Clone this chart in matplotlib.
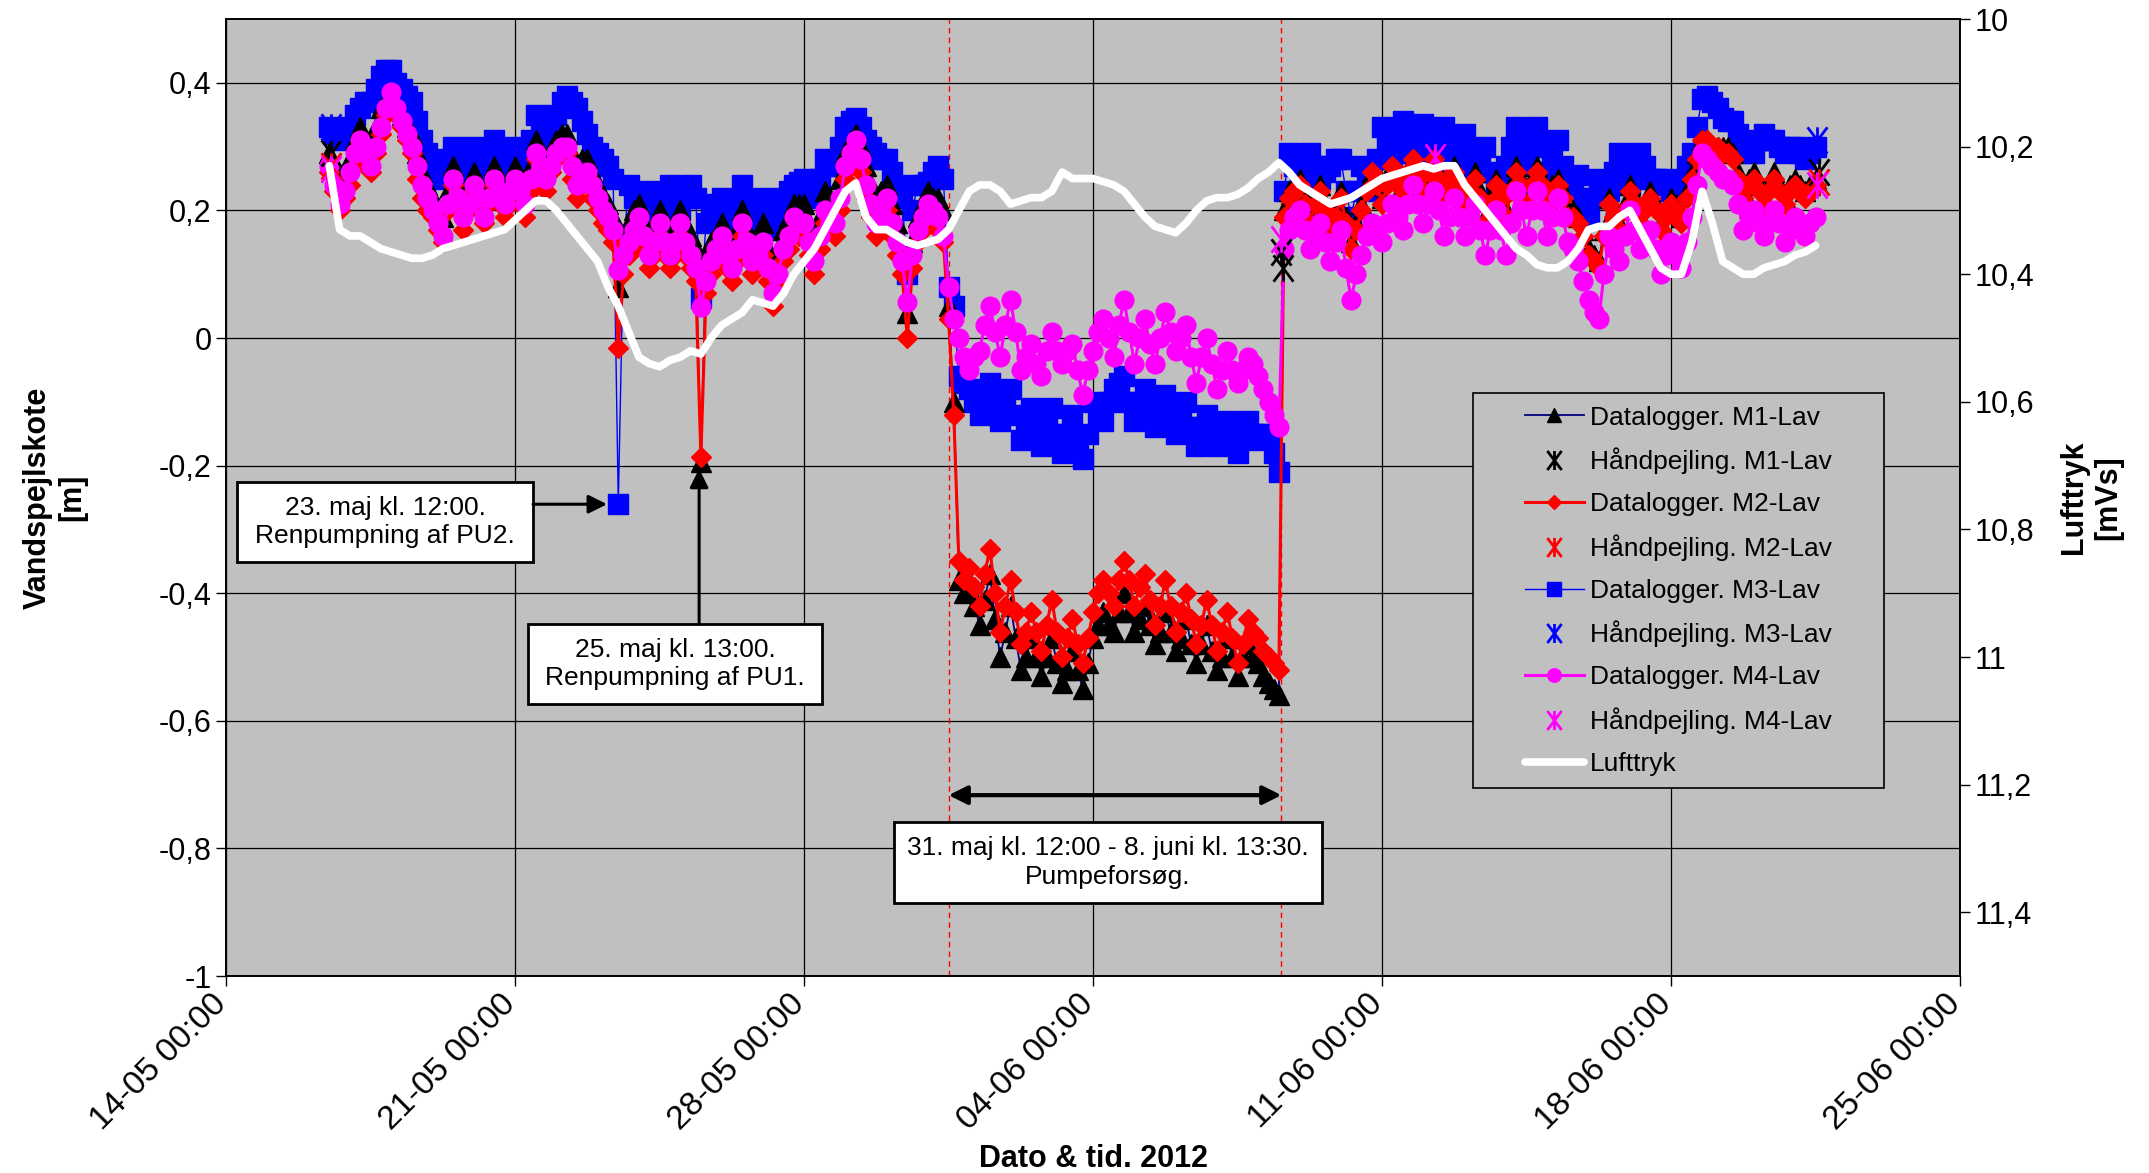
import numpy as np
import pandas as pd
import matplotlib
matplotlib.use("Agg")
import matplotlib.pyplot as plt
import matplotlib.dates as mdates
import matplotlib.transforms as mtransforms
from matplotlib.patches import Rectangle
from matplotlib.path import Path
from matplotlib.ticker import FuncFormatter

plt.rcParams['font.family'] = ['Liberation Sans', 'DejaVu Sans']
plt.rcParams['axes.unicode_minus'] = False

# Datalogger readings every 3 hours from 16-05-2012 12:00, one line per day
start = "2012-05-16 12:00"

m1_datalogger = [
    0.29, 0.27, 0.25, 0.26,
    0.28, 0.31, 0.33, 0.31, 0.30, 0.33, 0.36, 0.37,
    0.38, 0.36, 0.35, 0.33, 0.32, 0.29, 0.26, 0.24,
    0.22, 0.20, 0.19, 0.23, 0.27, 0.24, 0.21, 0.23,
    0.26, 0.24, 0.22, 0.25, 0.27, 0.25, 0.23, 0.25,
    0.27, 0.25, 0.23, 0.27, 0.31, 0.29, 0.27, 0.29,
    0.31, 0.32, 0.32, 0.29, 0.27, 0.28, 0.28, 0.26,
    0.24, 0.22, 0.21, 0.19, 0.08, 0.15, 0.18, 0.20,
    0.21, 0.18, 0.16, 0.18, 0.20, 0.18, 0.16, 0.18,
    0.20, 0.18, 0.16, 0.14, -0.194, 0.12, 0.15, 0.16,
    0.18, 0.16, 0.14, 0.17, 0.20, 0.17, 0.15, 0.16,
    0.18, 0.14, 0.11, 0.14, 0.17, 0.19, 0.21, 0.21,
    0.21, 0.18, 0.15, 0.19, 0.23, 0.22, 0.21, 0.25,
    0.29, 0.31, 0.32, 0.30, 0.27, 0.24, 0.22, 0.23,
    0.24, 0.21, 0.18, 0.15, 0.039, 0.15, 0.19, 0.21,
    0.23, 0.22, 0.22, 0.20, 0.05, -0.10, -0.38, -0.40,
    -0.39, -0.42, -0.45, -0.41, -0.37, -0.44, -0.50, -0.46,
    -0.42, -0.47, -0.52, -0.50, -0.47, -0.50, -0.53, -0.50,
    -0.47, -0.51, -0.54, -0.52, -0.49, -0.52, -0.55, -0.51,
    -0.47, -0.45, -0.43, -0.45, -0.46, -0.43, -0.40, -0.43,
    -0.46, -0.44, -0.42, -0.45, -0.48, -0.46, -0.43, -0.46,
    -0.49, -0.47, -0.44, -0.48, -0.51, -0.48, -0.45, -0.49,
    -0.52, -0.50, -0.47, -0.50, -0.53, -0.50, -0.48, -0.50,
    -0.51, -0.53, -0.54, -0.55, -0.56, 0.20, 0.23, 0.24,
    0.25, 0.22, 0.19, 0.22, 0.24, 0.21, 0.18, 0.20,
    0.23, 0.19, 0.15, 0.18, 0.21, 0.24, 0.26, 0.24,
    0.22, 0.25, 0.27, 0.26, 0.24, 0.26, 0.28, 0.26,
    0.24, 0.26, 0.28, 0.26, 0.23, 0.25, 0.27, 0.25,
    0.22, 0.24, 0.26, 0.23, 0.19, 0.22, 0.25, 0.23,
    0.20, 0.24, 0.27, 0.25, 0.22, 0.25, 0.27, 0.25,
    0.22, 0.24, 0.25, 0.23, 0.20, 0.20, 0.19, 0.17,
    0.14, 0.13, 0.12, 0.17, 0.22, 0.20, 0.18, 0.21,
    0.24, 0.22, 0.19, 0.21, 0.23, 0.21, 0.18, 0.20,
    0.22, 0.21, 0.19, 0.23, 0.26, 0.29, 0.31, 0.31,
    0.30, 0.30, 0.30, 0.30, 0.29, 0.26, 0.23, 0.25,
    0.26, 0.24, 0.22, 0.24, 0.26, 0.24, 0.22, 0.24,
    0.25, 0.24, 0.23, 0.24, 0.25,
]

m2_datalogger = [
    0.26, 0.23, 0.20, 0.22,
    0.24, 0.27, 0.30, 0.28, 0.26, 0.29, 0.32, 0.35,
    0.37, 0.35, 0.33, 0.31, 0.29, 0.25, 0.22, 0.20,
    0.19, 0.17, 0.15, 0.20, 0.24, 0.20, 0.17, 0.20,
    0.23, 0.21, 0.18, 0.21, 0.24, 0.21, 0.19, 0.21,
    0.24, 0.21, 0.19, 0.23, 0.28, 0.25, 0.23, 0.26,
    0.28, 0.29, 0.29, 0.25, 0.22, 0.24, 0.25, 0.22,
    0.20, 0.18, 0.17, 0.15, -0.015, 0.10, 0.13, 0.15,
    0.17, 0.14, 0.11, 0.13, 0.16, 0.13, 0.11, 0.13,
    0.16, 0.13, 0.11, 0.09, -0.186, 0.07, 0.10, 0.12,
    0.14, 0.11, 0.09, 0.12, 0.16, 0.13, 0.10, 0.12,
    0.13, 0.09, 0.05, 0.09, 0.12, 0.14, 0.17, 0.16,
    0.16, 0.13, 0.10, 0.14, 0.18, 0.17, 0.16, 0.20,
    0.25, 0.27, 0.29, 0.26, 0.22, 0.19, 0.16, 0.18,
    0.20, 0.16, 0.13, 0.10, 0.00, 0.11, 0.15, 0.17,
    0.19, 0.18, 0.17, 0.15, 0.03, -0.12, -0.35, -0.38,
    -0.36, -0.39, -0.42, -0.37, -0.33, -0.40, -0.46, -0.42,
    -0.38, -0.43, -0.48, -0.46, -0.43, -0.46, -0.49, -0.45,
    -0.41, -0.46, -0.50, -0.47, -0.44, -0.48, -0.51, -0.47,
    -0.43, -0.40, -0.38, -0.40, -0.42, -0.38, -0.35, -0.38,
    -0.42, -0.39, -0.37, -0.41, -0.45, -0.42, -0.38, -0.42,
    -0.46, -0.43, -0.40, -0.44, -0.48, -0.45, -0.41, -0.45,
    -0.49, -0.46, -0.43, -0.47, -0.51, -0.48, -0.44, -0.46,
    -0.47, -0.49, -0.50, -0.51, -0.52, 0.19, 0.22, 0.23,
    0.24, 0.21, 0.18, 0.21, 0.23, 0.20, 0.17, 0.19,
    0.22, 0.18, 0.14, 0.17, 0.20, 0.23, 0.26, 0.24,
    0.21, 0.24, 0.27, 0.25, 0.23, 0.26, 0.28, 0.25,
    0.23, 0.26, 0.28, 0.25, 0.22, 0.24, 0.26, 0.24,
    0.21, 0.23, 0.25, 0.22, 0.18, 0.21, 0.24, 0.22,
    0.19, 0.23, 0.26, 0.24, 0.21, 0.24, 0.26, 0.24,
    0.21, 0.23, 0.24, 0.22, 0.19, 0.19, 0.18, 0.16,
    0.13, 0.12, 0.11, 0.16, 0.21, 0.19, 0.17, 0.20,
    0.23, 0.21, 0.18, 0.20, 0.22, 0.20, 0.17, 0.19,
    0.21, 0.20, 0.18, 0.22, 0.25, 0.28, 0.31, 0.31,
    0.30, 0.30, 0.29, 0.29, 0.28, 0.25, 0.22, 0.24,
    0.25, 0.23, 0.21, 0.23, 0.25, 0.23, 0.21, 0.23,
    0.24, 0.23, 0.22, 0.23, 0.24,
]

m3_datalogger = [
    0.33, 0.32, 0.31, 0.32,
    0.33, 0.35, 0.36, 0.37, 0.37, 0.39, 0.41, 0.42,
    0.42, 0.40, 0.39, 0.38, 0.37, 0.34, 0.31, 0.29,
    0.27, 0.26, 0.25, 0.28, 0.30, 0.27, 0.24, 0.27,
    0.30, 0.28, 0.25, 0.28, 0.31, 0.28, 0.26, 0.28,
    0.30, 0.28, 0.27, 0.31, 0.35, 0.33, 0.31, 0.33,
    0.35, 0.37, 0.38, 0.37, 0.36, 0.34, 0.32, 0.30,
    0.29, 0.28, 0.27, 0.25, -0.26, 0.14, 0.24, 0.22,
    0.20, 0.22, 0.23, 0.21, 0.18, 0.21, 0.24, 0.22,
    0.20, 0.22, 0.24, 0.22, 0.062, 0.18, 0.20, 0.21,
    0.22, 0.19, 0.17, 0.21, 0.24, 0.21, 0.18, 0.20,
    0.22, 0.19, 0.17, 0.20, 0.22, 0.23, 0.24, 0.245,
    0.25, 0.23, 0.22, 0.25, 0.28, 0.27, 0.27, 0.30,
    0.33, 0.34, 0.345, 0.33, 0.31, 0.30, 0.29, 0.28,
    0.28, 0.26, 0.24, 0.22, 0.10, 0.20, 0.24, 0.24,
    0.245, 0.26, 0.27, 0.25, 0.08, 0.05, -0.06, -0.07,
    -0.08, -0.10, -0.12, -0.09, -0.07, -0.10, -0.13, -0.10,
    -0.08, -0.12, -0.16, -0.13, -0.11, -0.14, -0.17, -0.14,
    -0.11, -0.15, -0.18, -0.15, -0.12, -0.16, -0.19, -0.15,
    -0.10, -0.12, -0.13, -0.10, -0.08, -0.07, -0.06, -0.10,
    -0.13, -0.10, -0.08, -0.11, -0.14, -0.11, -0.09, -0.12,
    -0.15, -0.12, -0.10, -0.14, -0.17, -0.14, -0.12, -0.15,
    -0.17, -0.15, -0.13, -0.16, -0.18, -0.15, -0.13, -0.15,
    -0.16, -0.15, -0.15, -0.18, -0.21, 0.23, 0.29, 0.27,
    0.25, 0.27, 0.29, 0.27, 0.25, 0.26, 0.27, 0.28,
    0.28, 0.23, 0.19, 0.23, 0.27, 0.25, 0.23, 0.28,
    0.33, 0.30, 0.28, 0.31, 0.34, 0.31, 0.29, 0.31,
    0.335, 0.31, 0.29, 0.31, 0.33, 0.30, 0.27, 0.30,
    0.32, 0.29, 0.26, 0.28, 0.30, 0.26, 0.23, 0.25,
    0.27, 0.30, 0.33, 0.30, 0.27, 0.30, 0.33, 0.30,
    0.26, 0.29, 0.31, 0.27, 0.24, 0.25, 0.255, 0.22,
    0.19, 0.22, 0.25, 0.24, 0.23, 0.26, 0.29, 0.27,
    0.24, 0.27, 0.29, 0.27, 0.25, 0.25, 0.25, 0.24,
    0.23, 0.24, 0.25, 0.27, 0.29, 0.33, 0.375, 0.38,
    0.37, 0.36, 0.345, 0.34, 0.34, 0.32, 0.30, 0.29,
    0.29, 0.31, 0.32, 0.31, 0.31, 0.30, 0.29, 0.30,
    0.30, 0.29, 0.28, 0.29, 0.30,
]

m4_datalogger = [
    0.27, 0.24, 0.21, 0.23,
    0.26, 0.29, 0.31, 0.29, 0.27, 0.30, 0.33, 0.36,
    0.385, 0.36, 0.34, 0.32, 0.30, 0.27, 0.24, 0.22,
    0.20, 0.18, 0.16, 0.21, 0.25, 0.22, 0.19, 0.21,
    0.24, 0.22, 0.19, 0.22, 0.25, 0.23, 0.21, 0.23,
    0.25, 0.23, 0.21, 0.25, 0.29, 0.27, 0.25, 0.27,
    0.29, 0.30, 0.30, 0.27, 0.24, 0.25, 0.26, 0.24,
    0.22, 0.20, 0.19, 0.17, 0.107, 0.13, 0.15, 0.17,
    0.19, 0.16, 0.13, 0.15, 0.18, 0.15, 0.13, 0.15,
    0.18, 0.15, 0.13, 0.11, 0.049, 0.09, 0.12, 0.14,
    0.16, 0.13, 0.11, 0.14, 0.18, 0.15, 0.12, 0.13,
    0.15, 0.11, 0.07, 0.10, 0.14, 0.16, 0.19, 0.18,
    0.18, 0.15, 0.12, 0.16, 0.20, 0.19, 0.18, 0.22,
    0.27, 0.29, 0.31, 0.28, 0.24, 0.21, 0.18, 0.20,
    0.22, 0.18, 0.15, 0.12, 0.056, 0.13, 0.17, 0.19,
    0.21, 0.20, 0.19, 0.16, 0.08, 0.03, 0.00, -0.03,
    -0.05, -0.03, -0.02, 0.02, 0.05, 0.01, -0.03, 0.02,
    0.06, 0.01, -0.05, -0.03, -0.01, -0.04, -0.06, -0.02,
    0.01, -0.02, -0.04, -0.02, -0.01, -0.05, -0.09, -0.05,
    -0.02, 0.01, 0.03, 0.00, -0.03, 0.02, 0.06, 0.01,
    -0.04, 0.00, 0.03, -0.01, -0.04, 0.00, 0.04, 0.01,
    -0.02, 0.00, 0.02, -0.03, -0.07, -0.03, 0.00, -0.04,
    -0.08, -0.05, -0.02, -0.05, -0.07, -0.05, -0.03, -0.04,
    -0.06, -0.08, -0.10, -0.12, -0.14, 0.14, 0.17, 0.19,
    0.20, 0.17, 0.14, 0.16, 0.18, 0.15, 0.12, 0.15,
    0.17, 0.11, 0.06, 0.10, 0.13, 0.16, 0.18, 0.17,
    0.15, 0.18, 0.21, 0.19, 0.17, 0.21, 0.24, 0.21,
    0.18, 0.21, 0.23, 0.20, 0.16, 0.19, 0.22, 0.19,
    0.16, 0.19, 0.21, 0.17, 0.13, 0.17, 0.20, 0.17,
    0.13, 0.18, 0.23, 0.20, 0.16, 0.20, 0.23, 0.20,
    0.16, 0.19, 0.22, 0.19, 0.15, 0.14, 0.12, 0.09,
    0.06, 0.04, 0.03, 0.10, 0.16, 0.14, 0.12, 0.16,
    0.20, 0.17, 0.14, 0.16, 0.17, 0.14, 0.10, 0.13,
    0.15, 0.13, 0.11, 0.15, 0.19, 0.24, 0.29, 0.28,
    0.27, 0.26, 0.25, 0.25, 0.24, 0.21, 0.17, 0.19,
    0.20, 0.18, 0.16, 0.18, 0.20, 0.18, 0.15, 0.17,
    0.19, 0.18, 0.16, 0.18, 0.19,
]

# Air pressure every 6 hours from the same start
lufttryk = [
    10.23, 10.33,
    10.34, 10.34, 10.35, 10.36,
    10.365, 10.37, 10.375, 10.375,
    10.37, 10.36, 10.355, 10.35,
    10.345, 10.34, 10.335, 10.33,
    10.315, 10.30, 10.285, 10.285,
    10.30, 10.32, 10.34, 10.36,
    10.38, 10.42, 10.45, 10.49,
    10.53, 10.54, 10.545, 10.535,
    10.53, 10.52, 10.525, 10.50,
    10.48, 10.47, 10.46, 10.44,
    10.445, 10.45, 10.43, 10.40,
    10.38, 10.36, 10.33, 10.30,
    10.27, 10.257, 10.31, 10.33,
    10.33, 10.34, 10.35, 10.355,
    10.35, 10.345, 10.33, 10.30,
    10.27, 10.26, 10.26, 10.27,
    10.29, 10.285, 10.28, 10.28,
    10.27, 10.24, 10.25, 10.25,
    10.25, 10.255, 10.26, 10.27,
    10.29, 10.31, 10.325, 10.33,
    10.335, 10.32, 10.30, 10.285,
    10.28, 10.28, 10.275, 10.265,
    10.25, 10.24, 10.225, 10.24,
    10.26, 10.27, 10.28, 10.29,
    10.285, 10.28, 10.27, 10.26,
    10.25, 10.245, 10.24, 10.235,
    10.23, 10.235, 10.23, 10.23,
    10.26, 10.28, 10.30, 10.32,
    10.34, 10.36, 10.37, 10.385,
    10.39, 10.39, 10.38, 10.36,
    10.33, 10.325, 10.325, 10.31,
    10.30, 10.33, 10.36, 10.39,
    10.40, 10.40, 10.35, 10.27,
    10.32, 10.38, 10.39, 10.40,
    10.40, 10.39, 10.385, 10.38,
    10.37, 10.365, 10.355,
]

# Manual readings (haandpejling)
hp_m1_times = ["2012-05-16 13:00", "2012-06-08 13:30", "2012-06-08 14:30", "2012-06-21 14:00"]
hp_m1 = [0.29, 0.135, 0.11, 0.26]
hp_m2_times = ["2012-05-16 13:00", "2012-06-21 14:00"]
hp_m2 = [0.27, 0.245]
hp_m3_times = ["2012-05-16 13:00", "2012-06-21 13:00"]
hp_m3 = [0.33, 0.31]
hp_m4_times = ["2012-05-16 13:00", "2012-06-08 13:30", "2012-06-12 07:00", "2012-06-21 13:00"]
hp_m4 = [0.265, 0.155, 0.284, 0.24]

pump_start = "2012-05-31 12:00"
pump_stop = "2012-06-08 13:30"

left_ticks = [-1, -0.8, -0.6, -0.4, -0.2, 0, 0.2, 0.4]
right_ticks = [10, 10.2, 10.4, 10.6, 10.8, 11, 11.2, 11.4]
x_ticks = pd.date_range("2012-05-14", "2012-06-25", freq="7D")

n = len(m1_datalogger)
assert all(len(s) == n for s in [m2_datalogger, m3_datalogger, m4_datalogger])
t = pd.date_range(start, periods=n, freq="3h")
t_air = pd.date_range(start, periods=len(lufttryk), freq="6h")


def comma(v, pos):
    if abs(v) < 1e-9:
        v = 0.0
    s = f"{v:.1f}"
    if s.endswith(".0"):
        s = s[:-2]
    return s.replace(".", ",")


# Excel style asterisk: an X with a vertical bar
star = Path([(-0.75, -1), (0.75, 1), (-0.75, 1), (0.75, -1), (0, -1), (0, 1)],
            [Path.MOVETO, Path.LINETO, Path.MOVETO, Path.LINETO, Path.MOVETO, Path.LINETO])

fig = plt.figure(figsize=(21.49, 11.73), dpi=100)
ax1 = fig.add_subplot(111)
fig.subplots_adjust(left=0.1052, right=0.9121, bottom=0.1679, top=0.9838)
ax1.set_facecolor("#C0C0C0")
ax1.set_axisbelow(True)
ax1.grid(True, color="black", linewidth=0.9)

l3, = ax1.plot(t, m3_datalogger, color="#0000FF", lw=1, marker="s", ms=14.5,
               mfc="#0000FF", mec="#0000FF", zorder=2, label="Datalogger. M3-Lav")
l1, = ax1.plot(t, m1_datalogger, color="#000080", lw=1.3, marker="^", ms=14.5,
               mfc="black", mec="black", zorder=3, label="Datalogger. M1-Lav")
l2, = ax1.plot(t, m2_datalogger, color="#FF0000", lw=2.2, marker="D", ms=10,
               mfc="#FF0000", mec="#FF0000", zorder=4, label="Datalogger. M2-Lav")
l4, = ax1.plot(t, m4_datalogger, color="#FF00FF", lw=2.2, marker="o", ms=13.5,
               mfc="#FF00FF", mec="#FF00FF", zorder=5, label="Datalogger. M4-Lav")

hp_style = dict(ls="none", marker=star, ms=19, mew=2, zorder=6)
h1, = ax1.plot(pd.to_datetime(hp_m1_times), hp_m1, color="black",
               label="Håndpejling. M1-Lav", **hp_style)
h2, = ax1.plot(pd.to_datetime(hp_m2_times), hp_m2, color="#FF0000",
               label="Håndpejling. M2-Lav", **hp_style)
h3, = ax1.plot(pd.to_datetime(hp_m3_times), hp_m3, color="#0000FF",
               label="Håndpejling. M3-Lav", **hp_style)
h4, = ax1.plot(pd.to_datetime(hp_m4_times), hp_m4, color="#FF00FF",
               label="Håndpejling. M4-Lav", **hp_style)

for d in [pump_start, pump_stop]:
    ax1.axvline(pd.Timestamp(d), color="red", lw=1, ls=(0, (4, 3)), zorder=1.5)

ax1.set_xlim(pd.Timestamp("2012-05-14"), pd.Timestamp("2012-06-25"))
ax1.set_ylim(-1, 0.5)
ax1.set_yticks(left_ticks)
ax1.yaxis.set_major_formatter(FuncFormatter(comma))
ax1.set_xticks(x_ticks)
ax1.xaxis.set_major_formatter(mdates.DateFormatter("%d-%m %H:%M"))
ax1.tick_params(axis="both", direction="out", length=7, width=1)
ax1.tick_params(axis="y", labelsize=22)
ax1.tick_params(axis="x", labelsize=24, pad=2)
shift = mtransforms.ScaledTranslation(-0.15, 0, fig.dpi_scale_trans)
for lab in ax1.get_xticklabels():
    lab.set_rotation(45)
    lab.set_ha("right")
    lab.set_rotation_mode("anchor")
    lab.set_transform(lab.get_transform() + shift)

ax1.set_ylabel("Vandspejlskote\n[m]", fontsize=22, fontweight="bold")
ax1.yaxis.set_label_coords(-0.08, 0.5)
ax1.set_xlabel("Dato & tid. 2012", fontsize=22, fontweight="bold")
ax1.xaxis.set_label_coords(0.5, -0.175)

# pressure on the inverted right axis
ax2 = ax1.twinx()
lp, = ax2.plot(t_air, lufttryk, color="white", lw=5.5, solid_capstyle="round",
               solid_joinstyle="round", label="Lufttryk")
ax2.set_ylim(11.5, 10)
ax2.set_yticks(right_ticks)
ax2.yaxis.set_major_formatter(FuncFormatter(comma))
ax2.tick_params(axis="y", direction="out", length=7, width=1, labelsize=22)
ax2.set_ylabel("Lufttryk\n[mVs]", fontsize=22, fontweight="bold")
ax2.yaxis.set_label_coords(1.057, 0.5)

for ax in (ax1, ax2):
    for sp in ax.spines.values():
        sp.set_color("black")
        sp.set_linewidth(1.2)

# annotation boxes
narrow = ["Liberation Sans Narrow", "Liberation Sans", "DejaVu Sans"]
boxes = [
    ((0.0063, 0.4326, 0.1707, 0.0836), "23. maj kl. 12:00.\nRenpumpning af PU2.", narrow),
    ((0.174, 0.284, 0.1697, 0.084), "25. maj kl. 13:00.\nRenpumpning af PU1.", narrow),
    ((0.385, 0.0763, 0.247, 0.0847), "31. maj kl. 12:00 - 8. juni kl. 13:30.\nPumpeforsøg.",
     ["Liberation Sans", "DejaVu Sans"]),
]
for (bx, by, bw, bh), txt, fam in boxes:
    ax2.add_patch(Rectangle((bx, by), bw, bh, transform=ax2.transAxes, fc="white",
                            ec="black", lw=2, zorder=8))
    ax2.text(bx + bw / 2, by + bh / 2, txt, transform=ax2.transAxes, ha="center",
             va="center", fontsize=19, family=fam, linespacing=1.25, zorder=9)

arrow = dict(arrowstyle="-|>", color="black", lw=2.2, mutation_scale=28,
             shrinkA=0, shrinkB=0)
ax2.annotate("", xy=(0.2197, 0.493), xytext=(0.177, 0.493), xycoords="axes fraction",
             arrowprops=arrow, zorder=9)
ax2.annotate("", xy=(0.2728, 0.530), xytext=(0.2728, 0.368), xycoords="axes fraction",
             arrowprops=arrow, zorder=9)
x0 = mdates.date2num(pd.Timestamp(pump_start))
x1 = mdates.date2num(pd.Timestamp(pump_stop))
ax1.annotate("", xy=(x1, 0.189), xytext=(x0, 0.189), xycoords=("data", "axes fraction"),
             arrowprops=dict(arrowstyle="<|-|>", color="black", lw=3, mutation_scale=28,
                             shrinkA=0, shrinkB=0), zorder=9)

# legend
ax2.add_patch(Rectangle((0.719, 0.197), 0.237, 0.412, transform=ax2.transAxes,
                        fc="#C0C0C0", ec="black", lw=1.2, zorder=10))
handles = [l1, h1, l2, h2, l3, h3, l4, h4, lp]
leg = ax2.legend(handles=handles, loc="upper left", bbox_to_anchor=(0.749, 0.596),
                 frameon=False, fontsize=19, borderpad=0, borderaxespad=0,
                 handlelength=2.24, handletextpad=0.22, labelspacing=0.68,
                 markerscale=0.72)
leg.set_zorder(11)

fig.savefig("out.png", dpi=100)
